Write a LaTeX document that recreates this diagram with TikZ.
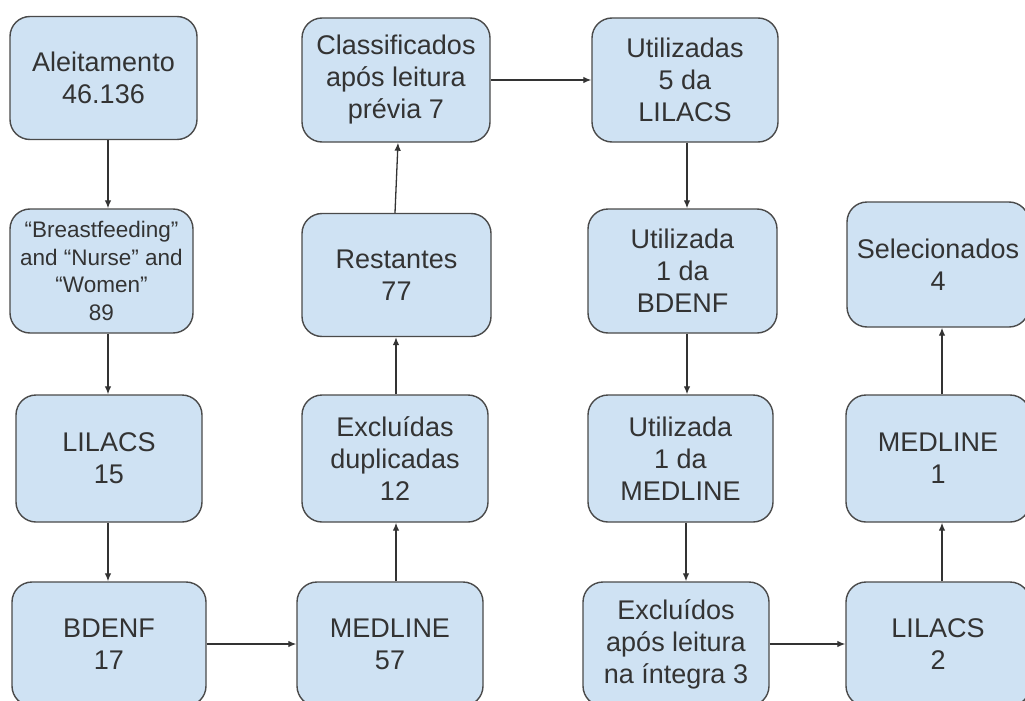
\documentclass[tikz,border=0pt]{standalone}
\usepackage{fontspec}
\setmainfont{Liberation Sans}
\usetikzlibrary{arrows.meta}
\definecolor{boxfill}{HTML}{CFE2F3}
\definecolor{boxline}{HTML}{4A4A4A}
\definecolor{txt}{HTML}{333333}
\tikzset{
  fbox/.style={draw=boxline, fill=boxfill, line width=1.4pt, rounded corners=20pt,
    align=center, text=txt, font=\fontsize{27}{32}\selectfont, inner sep=0pt},
  arr/.style={draw=txt, line width=1.3pt, -{Latex[length=8pt,width=6.5pt]}},
}
\begin{document}
\begin{tikzpicture}[x=1pt,y=-1pt]
\useasboundingbox (0,0) rectangle (1025,701);
\clip (0,0) rectangle (1025,701);
\fill[white] (0,0) rectangle (1025,701);
% column 1
\node[fbox, minimum width=187pt, minimum height=123pt] (alei) at (103.5,78) {Aleitamento\\46.136};
\node[fbox, minimum width=183pt, minimum height=124pt, font=\fontsize{22.5}{27.5}\selectfont] (breast) at (101.5,271) {“Breastfeeding”\\and “Nurse” and\\“Women”\\89};
\node[fbox, minimum width=186pt, minimum height=127pt] (lil15) at (109,458.5) {LILACS\\15};
\node[fbox, minimum width=194pt, minimum height=124pt] (bd17) at (109,644) {BDENF\\17};
% column 2
\node[fbox, minimum width=186pt, minimum height=124pt] (med57) at (390,644) {MEDLINE\\57};
\node[fbox, minimum width=186pt, minimum height=127pt] (excl) at (395,458.5) {Excluídas\\duplicadas\\12};
\node[fbox, minimum width=189pt, minimum height=123pt] (rest) at (396.5,275) {Restantes\\77};
\node[fbox, minimum width=188pt, minimum height=124pt] (class) at (396,80) {Classificados\\após leitura\\prévia 7};
% column 3
\node[fbox, minimum width=186pt, minimum height=124pt] (utilL) at (685,80) {Utilizadas\\5 da\\LILACS};
\node[fbox, minimum width=189pt, minimum height=124pt] (utilB) at (682.5,271) {Utilizada\\1 da\\BDENF};
\node[fbox, minimum width=185pt, minimum height=127pt] (utilM) at (680.5,458.5) {Utilizada\\1 da\\MEDLINE};
\node[fbox, minimum width=186pt, minimum height=124pt] (exclI) at (676,644) {Excluídos\\após leitura\\na íntegra 3};
% column 4
\node[fbox, minimum width=184pt, minimum height=124pt] (lil2) at (938,644) {LILACS\\2};
\node[fbox, minimum width=184pt, minimum height=127pt] (med1) at (938,458.5) {MEDLINE\\1};
\node[fbox, minimum width=182pt, minimum height=125pt] (sel) at (938,264.5) {Selecionados\\4};
% connectors
\draw[arr] ([xshift=4.5pt]alei.south) -- ([xshift=4.5pt]alei.south |- breast.north);
\draw[arr] ([xshift=6.5pt]breast.south) -- ([xshift=6.5pt]breast.south |- lil15.north);
\draw[arr] ([xshift=-1pt]lil15.south) -- ([xshift=-1pt]lil15.south |- bd17.north);
\draw[arr] (bd17.east) -- (bd17.east -| med57.west);
\draw[arr] ([xshift=6pt]med57.north) -- ([xshift=6pt]med57.north |- excl.south);
\draw[arr] ([xshift=1pt]excl.north) -- ([xshift=1pt]excl.north |- rest.south);
\draw[arr] ([xshift=-1.5pt]rest.north) -- ([xshift=2pt]class.south);
\draw[arr] (class.east) -- (class.east -| utilL.west);
\draw[arr] ([xshift=2pt]utilL.south) -- ([xshift=2pt]utilL.south |- utilB.north);
\draw[arr] ([xshift=4.5pt]utilB.south) -- ([xshift=4.5pt]utilB.south |- utilM.north);
\draw[arr] ([xshift=5.5pt]utilM.south) -- ([xshift=5.5pt]utilM.south |- exclI.north);
\draw[arr] (exclI.east) -- (exclI.east -| lil2.west);
\draw[arr] ([xshift=4pt]lil2.north) -- ([xshift=4pt]lil2.north |- med1.south);
\draw[arr] ([xshift=4pt]med1.north) -- ([xshift=4pt]med1.north |- sel.south);
\end{tikzpicture}
\end{document}
